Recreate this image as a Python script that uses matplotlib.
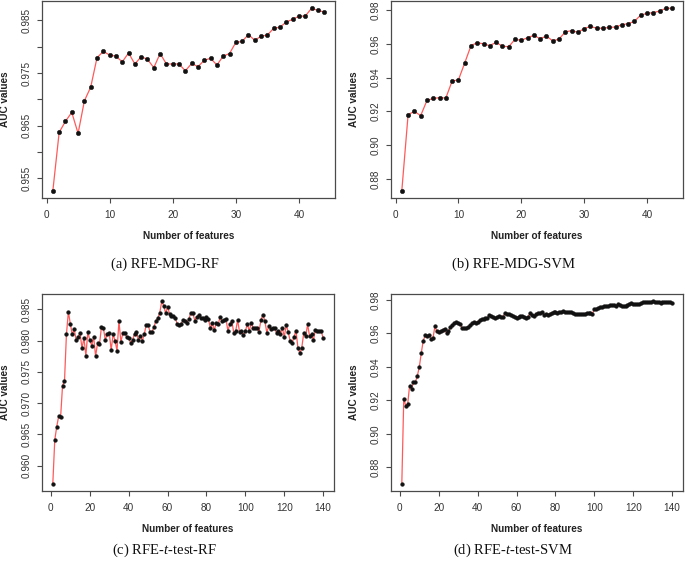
import matplotlib
matplotlib.use("Agg")
import matplotlib.pyplot as plt
import numpy as np

# ---------------- data ----------------
auc_mdg_rf = [0.9526, 0.9637, 0.9658, 0.9675, 0.9635, 0.9697, 0.9723, 0.9779, 0.9791, 0.9784,
              0.9782, 0.9771, 0.9788, 0.9767, 0.9781, 0.9776, 0.9760, 0.9787, 0.9767, 0.9767,
              0.9767, 0.9754, 0.9768, 0.9762, 0.9774, 0.9778, 0.9765, 0.9782, 0.9787, 0.9808,
              0.9810, 0.9823, 0.9812, 0.9820, 0.9822, 0.9835, 0.9837, 0.9847, 0.9852, 0.9858,
              0.9858, 0.9873, 0.9869, 0.9866]

auc_mdg_svm = [0.8731, 0.9181, 0.9200, 0.9175, 0.9265, 0.9277, 0.9281, 0.9279, 0.9380, 0.9386,
               0.9486, 0.9589, 0.9607, 0.9599, 0.9589, 0.9609, 0.9585, 0.9583, 0.9626, 0.9621,
               0.9636, 0.9650, 0.9630, 0.9646, 0.9617, 0.9628, 0.9670, 0.9678, 0.9668, 0.9690,
               0.9703, 0.9692, 0.9692, 0.9697, 0.9699, 0.9713, 0.9719, 0.9733, 0.9770, 0.9780,
               0.9784, 0.9794, 0.9810, 0.9810]

auc_ttest_rf = [0.9571, 0.9641, 0.9662, 0.9679, 0.9677, 0.9728, 0.9735, 0.9810, 0.9846, 0.9827,
                0.9810, 0.9818, 0.9801, 0.9806, 0.9812, 0.9788, 0.9804, 0.9776, 0.9814, 0.9801,
                0.9792, 0.9806, 0.9775, 0.9796, 0.9794, 0.9822, 0.9820, 0.9801, 0.9811, 0.9813,
                0.9785, 0.9810, 0.9800, 0.9784, 0.9831, 0.9798, 0.9812, 0.9812, 0.9806, 0.9805,
                0.9796, 0.9801, 0.9811, 0.9814, 0.9801, 0.9808, 0.9800, 0.9810, 0.9825, 0.9825,
                0.9814, 0.9814, 0.9822, 0.9832, 0.9836, 0.9845, 0.9863, 0.9856, 0.9844, 0.9854,
                0.9843, 0.9840, 0.9839, 0.9836, 0.9826, 0.9825, 0.9827, 0.9833, 0.9832, 0.9829,
                0.9835, 0.9845, 0.9844, 0.9832, 0.9838, 0.9841, 0.9836, 0.9836, 0.9833, 0.9838,
                0.9835, 0.9820, 0.9828, 0.9817, 0.9828, 0.9826, 0.9838, 0.9831, 0.9833, 0.9835,
                0.9816, 0.9826, 0.9832, 0.9813, 0.9815, 0.9833, 0.9814, 0.9816, 0.9809, 0.9815,
                0.9827, 0.9815, 0.9829, 0.9820, 0.9820, 0.9820, 0.9814, 0.9833, 0.9841, 0.9832,
                0.9813, 0.9823, 0.9819, 0.9820, 0.9820, 0.9812, 0.9816, 0.9811, 0.9820, 0.9806,
                0.9825, 0.9814, 0.9800, 0.9796, 0.9806, 0.9816, 0.9789, 0.9780, 0.9789, 0.9812,
                0.9807, 0.9826, 0.9807, 0.9810, 0.9801, 0.9817, 0.9815, 0.9815, 0.9815, 0.9804]

auc_ttest_svm = [0.8702, 0.9210, 0.9168, 0.9176, 0.9288, 0.9270, 0.9308, 0.9310, 0.9348, 0.9400,
                 0.9482, 0.9556, 0.9588, 0.9582, 0.9592, 0.9566, 0.9570, 0.9642, 0.9612, 0.9608,
                 0.9612, 0.9622, 0.9628, 0.9600, 0.9612, 0.9636, 0.9652, 0.9662, 0.9666, 0.9662,
                 0.9655, 0.9632, 0.9635, 0.9632, 0.9640, 0.9648, 0.9660, 0.9668, 0.9665, 0.9670,
                 0.9680, 0.9685, 0.9685, 0.9690, 0.9692, 0.9712, 0.9705, 0.9700, 0.9690, 0.9700,
                 0.9705, 0.9700, 0.9700, 0.9720, 0.9718, 0.9715, 0.9710, 0.9705, 0.9700, 0.9695,
                 0.9700, 0.9705, 0.9705, 0.9698, 0.9695, 0.9700, 0.9722, 0.9712, 0.9705, 0.9718,
                 0.9720, 0.9722, 0.9728, 0.9712, 0.9715, 0.9712, 0.9718, 0.9722, 0.9728, 0.9730,
                 0.9725, 0.9730, 0.9728, 0.9732, 0.9730, 0.9730, 0.9730, 0.9728, 0.9720, 0.9715,
                 0.9715, 0.9715, 0.9715, 0.9715, 0.9718, 0.9722, 0.9722, 0.9720, 0.9718, 0.9745,
                 0.9748, 0.9750, 0.9755, 0.9760, 0.9762, 0.9765, 0.9765, 0.9768, 0.9770, 0.9770,
                 0.9765, 0.9775, 0.9770, 0.9765, 0.9762, 0.9765, 0.9770, 0.9778, 0.9780, 0.9775,
                 0.9778, 0.9775, 0.9778, 0.9782, 0.9788, 0.9785, 0.9785, 0.9788, 0.9790, 0.9792,
                 0.9790, 0.9790, 0.9785, 0.9782, 0.9785, 0.9785, 0.9785, 0.9785, 0.9785, 0.9782]

captions = ["(a) RFE-MDG-RF", "(b) RFE-MDG-SVM",
            "(c) RFE-$\\it{t}$-test-RF", "(d) RFE-$\\it{t}$-test-SVM"]
xticks_small = [0, 10, 20, 30, 40]
xticks_large = [0, 20, 40, 60, 80, 100, 120, 140]
yticks_a = [0.955, 0.960, 0.965, 0.970, 0.975, 0.980, 0.985]
ylabels_a = ["0.955", "", "0.965", "", "0.975", "", "0.985"]
yticks_b = [0.88, 0.90, 0.92, 0.94, 0.96, 0.98]
yticks_c = [0.960, 0.965, 0.970, 0.975, 0.980, 0.985]
yticks_d = [0.88, 0.90, 0.92, 0.94, 0.96, 0.98]
xlabel = "Number of features"
ylabel = "AUC values"

# ---------------- figure ----------------
W, H = 685, 563
fig = plt.figure(figsize=(W / 100, H / 100), dpi=100)
plt.rcParams['font.family'] = ['Liberation Sans', 'DejaVu Sans']
plt.rcParams['mathtext.fontset'] = 'custom'
plt.rcParams['mathtext.it'] = 'Liberation Serif:italic'
plt.rcParams['mathtext.rm'] = 'Liberation Serif'

def px_axes(left, top, right, bottom):
    return fig.add_axes([left / W, 1 - bottom / H, (right - left) / W, (bottom - top) / H])

boxes = [(42, 1, 335, 198), (391, 1, 683, 198), (42, 294, 334, 491), (391, 294, 683, 491)]
series = [auc_mdg_rf, auc_mdg_svm, auc_ttest_rf, auc_ttest_svm]
xtick_sets = [xticks_small, xticks_small, xticks_large, xticks_large]
ytick_sets = [(yticks_a, ylabels_a), (yticks_b, None), (yticks_c, None), (yticks_d, None)]
ytick_fmt = ["{:.3f}", "{:.2f}", "{:.3f}", "{:.2f}"]
cap_pos = [(165, 264), (513, 264), (165, 550), (513, 550)]

line_col = '#ff5a5a'
frame_col = '#4a4a4a'
txt_col = '#333333'

for i in range(4):
    ax = px_axes(*boxes[i])
    y = np.array(series[i])
    x = np.arange(1, len(y) + 1)
    ms = 3.2 if i < 2 else 2.7
    ax.plot(x, y, color=line_col, lw=0.9, zorder=2)
    ax.plot(x, y, 'o', color='#111111', ms=ms, mec='#111111', mew=0.3, zorder=3)
    ax.margins(x=0.04, y=0.04)
    ax.set_xticks(xtick_sets[i])
    yt, yl = ytick_sets[i]
    ax.set_yticks(yt)
    if yl is None:
        yl = [ytick_fmt[i].format(v) for v in yt]
    ax.set_yticklabels(yl, rotation=90, va='center')
    for sp in ax.spines.values():
        sp.set_color(frame_col)
        sp.set_linewidth(0.9)
    ax.tick_params(axis='both', direction='out', length=3.5, width=0.8,
                   color=frame_col, labelsize=7.2, labelcolor=txt_col)
    ax.tick_params(axis='x', pad=5)
    ax.tick_params(axis='y', pad=4)
    ax.set_xlabel(xlabel, fontsize=7.2, fontweight='bold', color='#222222', labelpad=8)
    ax.set_ylabel(ylabel, fontsize=7.2, fontweight='bold', color='#222222', labelpad=8.5)
    cx, cy = cap_pos[i]
    fig.text(cx / W, 1 - cy / H, captions[i], ha='center', va='center',
             fontsize=10.5, family='Liberation Serif', color='#111111')

fig.savefig("out.png", dpi=100)
